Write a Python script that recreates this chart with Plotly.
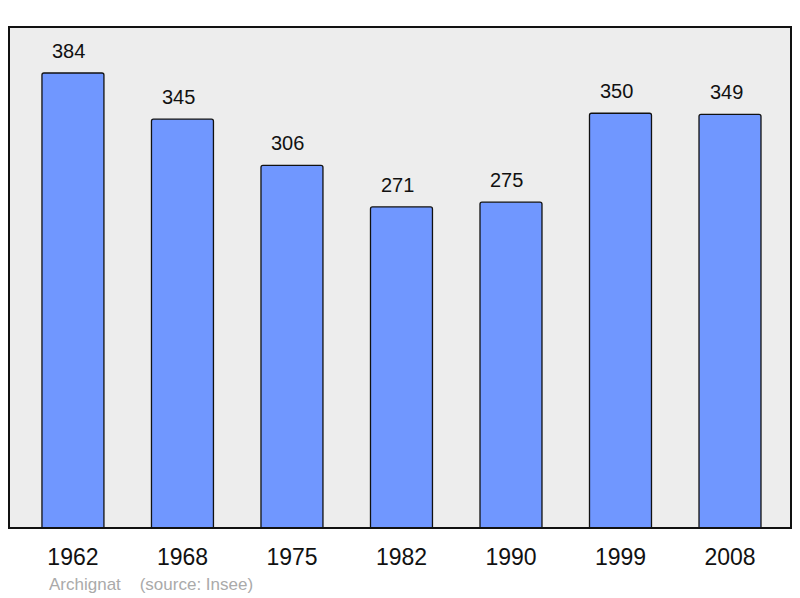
import plotly.graph_objects as go

years = ["1962", "1968", "1975", "1982", "1990", "1999", "2008"]
population = [384, 345, 306, 271, 275, 350, 349]
footer_text = "Archignat    (source: Insee)"

FONT = "Liberation Sans, Arial, sans-serif"

fig = go.Figure(
    go.Bar(
        x=years,
        y=population,
        width=0.566,
        marker=dict(color="#7097ff", line=dict(color="#111111", width=1.3), cornerradius=2),
        hoverinfo="x+y",
    )
)

# value labels above each bar (x by index: "1962" would be read as a number)
for i, val in enumerate(population):
    fig.add_annotation(
        x=i, y=val, text=str(val), showarrow=False,
        yanchor="bottom", yshift=9, xshift=-4,
        font=dict(family=FONT, size=20, color="#111111"),
    )

fig.add_annotation(
    xref="paper", yref="paper", x=0.049, y=-0.1118,
    xanchor="left", yanchor="middle", showarrow=False,
    text=footer_text.replace(" ", "&nbsp;"),
    font=dict(family=FONT, size=17, color="#aaaaaa"),
)

# plot frame
fig.add_shape(
    type="rect", xref="paper", yref="paper", x0=0, y0=0, x1=1, y1=1,
    line=dict(color="#111111", width=2), layer="above",
)

fig.update_layout(
    width=800, height=598,
    margin=dict(l=9, r=9, t=27, b=70),
    paper_bgcolor="white",
    plot_bgcolor="#ededed",
    showlegend=False,
    xaxis=dict(
        type="category", range=[-0.584, 6.557],
        showgrid=False, zeroline=False, showline=False,
        ticks="outside", ticklen=8, tickcolor="rgba(0,0,0,0)",
        tickfont=dict(family=FONT, size=23, color="#111111"),
    ),
    yaxis=dict(
        range=[0, 422.8], showgrid=False, zeroline=False,
        showline=False, showticklabels=False, ticks="",
    ),
)

# drop the browser's default body margin so the figure sits at the window corner
fig.write_html(
    "out.html",
    config={"displayModeBar": False},
    post_script="document.body.style.margin='0';",
)
